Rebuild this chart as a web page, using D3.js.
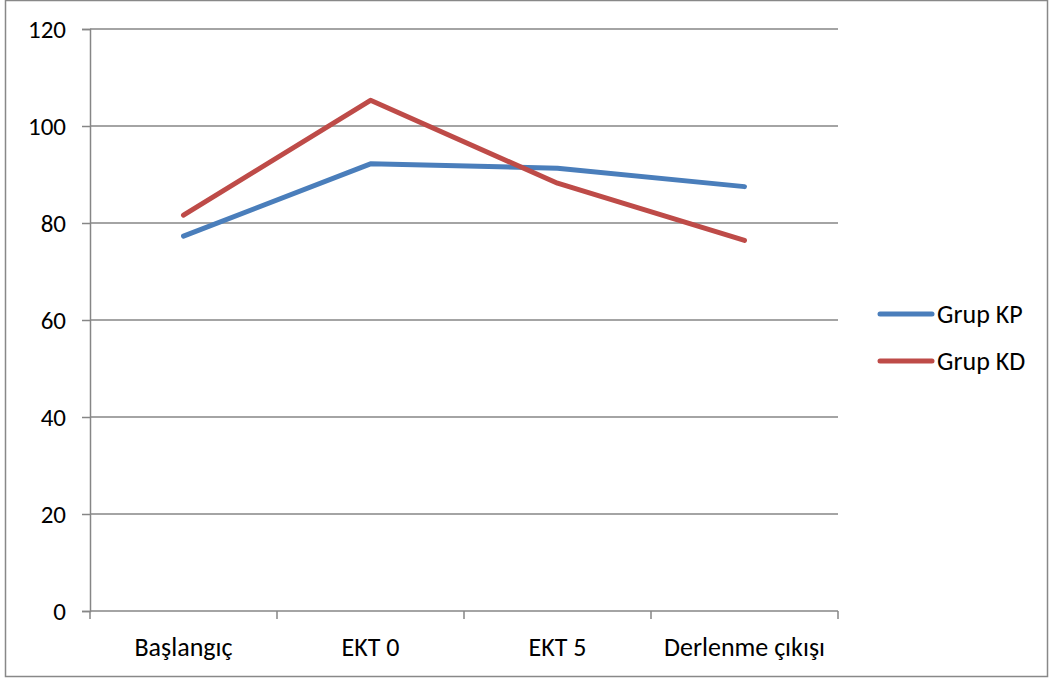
<!DOCTYPE html>
<html>
<head>
<meta charset="utf-8">
<script src="https://cdn.jsdelivr.net/npm/d3@7"></script>
<style>
  html, body { margin: 0; padding: 0; background: #fff; }
  svg { display: block; font-family: Carlito, Lato, "Open Sans", sans-serif; }
</style>
</head>
<body>
<svg id="chart" width="1053" height="682"></svg>
<script>
// Categories along the x axis
const categories = ["Başlangıç", "EKT 0", "EKT 5", "Derlenme çıkışı"];
// Series values
const grupKP = [77.3, 92.2, 91.3, 87.5];
const grupKD = [81.6, 105.3, 88.2, 76.4];
const seriesNames = ["Grup KP", "Grup KD"];
const seriesColors = ["#4A7EBB", "#BE4B48"];
// Y axis ticks
const yTicks = [0, 20, 40, 60, 80, 100, 120];

const svg = d3.select("#chart");
const plot = { left: 90, right: 838, top: 29, bottom: 611 };
const fontFamily = "Carlito, Lato, sans-serif";

// Outer frame
svg.append("rect")
  .attr("x", 5.5).attr("y", 0.5)
  .attr("width", 1042).attr("height", 676)
  .attr("fill", "none").attr("stroke", "#888").attr("stroke-width", 1.5);

const x = d3.scaleBand().domain(categories).range([plot.left, plot.right]);
const y = d3.scaleLinear().domain([0, 120]).range([plot.bottom, plot.top]);

// Horizontal gridlines
svg.append("g").selectAll("line").data(yTicks.filter(d => d > 0)).join("line")
  .attr("x1", plot.left).attr("x2", plot.right)
  .attr("y1", d => y(d)).attr("y2", d => y(d))
  .attr("stroke", "#868686").attr("stroke-width", 1.5);

// Y axis
const yAxis = d3.axisLeft(y).tickValues(yTicks).tickSize(8).tickPadding(16).tickFormat(d3.format("d"));
const gy = svg.append("g").attr("transform", `translate(${plot.left},0)`).call(yAxis);
gy.select(".domain").attr("stroke", "#868686").attr("stroke-width", 1.5);
gy.selectAll(".tick line").attr("stroke", "#868686").attr("stroke-width", 1.5);
gy.selectAll(".tick text").attr("fill", "#000").attr("dy", "0.35em")
  .style("font-size", "25px").style("font-family", fontFamily);

// X axis with ticks at category boundaries
const gx = svg.append("g").attr("transform", `translate(0,${plot.bottom})`);
gx.append("line").attr("x1", plot.left).attr("x2", plot.right)
  .attr("stroke", "#868686").attr("stroke-width", 1.5);
const bounds = categories.map(c => x(c)).concat([x(categories[categories.length - 1]) + x.bandwidth()]);
gx.selectAll("line.tk").data(bounds).join("line").attr("class", "tk")
  .attr("x1", d => d).attr("x2", d => d).attr("y1", 0).attr("y2", 8)
  .attr("stroke", "#868686").attr("stroke-width", 1.5);
gx.selectAll("text").data(categories).join("text")
  .attr("x", d => x(d) + x.bandwidth() / 2).attr("y", 45)
  .attr("text-anchor", "middle").style("font-size", "26px").attr("fill", "#000")
  .text(d => d);

// Lines
const line = d3.line()
  .x((d, i) => x(categories[i]) + x.bandwidth() / 2)
  .y(d => y(d));
[grupKP, grupKD].forEach((vals, i) => {
  svg.append("path").datum(vals)
    .attr("d", line)
    .attr("fill", "none")
    .attr("stroke", seriesColors[i])
    .attr("stroke-width", 5)
    .attr("stroke-linecap", "round")
    .attr("stroke-linejoin", "round");
});

// Legend
const legend = svg.append("g").attr("transform", "translate(880,314)");
seriesNames.forEach((name, i) => {
  const g = legend.append("g").attr("transform", `translate(0,${i * 47})`);
  g.append("line").attr("x1", 0).attr("x2", 52).attr("y1", 0).attr("y2", 0)
    .attr("stroke", seriesColors[i]).attr("stroke-width", 5).attr("stroke-linecap", "round");
  g.append("text").attr("x", 57).attr("y", 8.5)
    .style("font-size", "26px").attr("fill", "#000").text(name);
});
</script>
</body>
</html>
